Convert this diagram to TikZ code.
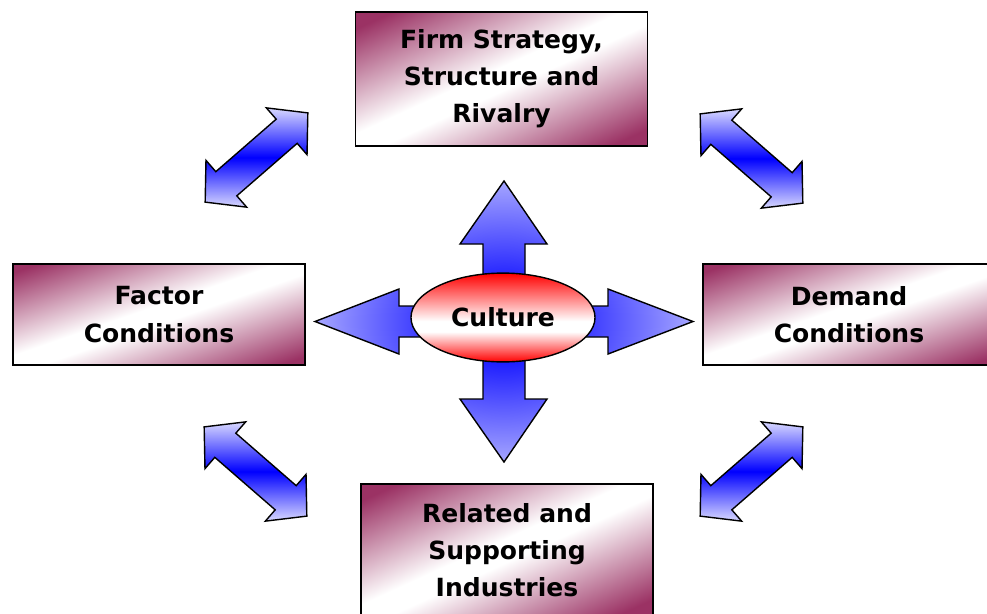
\documentclass[tikz,border=0pt]{standalone}
\usepackage{fontspec}
\setmainfont{DejaVu Sans}
\usetikzlibrary{shapes.geometric}

\definecolor{plum}{RGB}{155,50,100}
\pgfdeclareverticalshading{boxfill}{100bp}{color(0bp)=(plum); color(21bp)=(plum); color(47bp)=(white); color(53bp)=(white); color(79bp)=(plum); color(100bp)=(plum)}
\pgfdeclareverticalshading{culturefill}{100bp}{color(0bp)=(red); color(25bp)=(red); color(42bp)=(white); color(48bp)=(white); color(75bp)=(red); color(100bp)=(red)}
\pgfdeclareradialshading{rays}{\pgfpoint{0bp}{0bp}}{color(0bp)=(blue); color(6bp)=(blue!92); color(25bp)=(blue!35); color(50bp)=(blue!35)}

\tikzset{
  dblarrow/.pic={
    \path[shade,draw,line width=1pt,top color=blue!15,bottom color=blue!15,middle color=blue]
      (-68,0) -- (-40,31) -- (-40,16) -- (40,16) -- (40,31) -- (68,0)
      -- (40,-31) -- (40,-16) -- (-40,-16) -- (-40,-31) -- cycle;
  }
}

\begin{document}
\begin{tikzpicture}[x=0.025cm,y=-0.025cm,
  box/.style={rectangle,draw,line width=1pt,align=center,minimum width=7.3cm,
    font=\fontsize{17.8}{26.4}\selectfont\bfseries,shade,shading=boxfill},
  tall/.style={box,minimum height=3.35cm,shading angle=24.6},
  flat/.style={box,minimum height=2.525cm,shading angle=19.1}]
\clip (0,0) rectangle (987,613);

\pic[rotate=41] (sf) at (256.5,157.5) {dblarrow};
\pic[rotate=-41] (sd) at (751.5,158.5) {dblarrow};
\pic[rotate=-41] (fr) at (255.5,471.5) {dblarrow};
\pic[rotate=41] (dr) at (751.5,471.5) {dblarrow};

\path[shade,draw,line width=1pt,shading=rays]
  (504,181) -- (547,244) -- (525,244) -- (525,306) -- (608,306) -- (608,289)
  -- (693,321.5) -- (608,354) -- (608,337) -- (525,337) -- (525,399) -- (547,399)
  -- (504,462) -- (460,399) -- (483,399) -- (483,337) -- (399,337) -- (399,354)
  -- (315,321.5) -- (399,289) -- (399,306) -- (483,306) -- (483,244) -- (460,244) -- cycle;

\node[ellipse,draw,line width=1pt,minimum width=4.6cm,minimum height=2.22cm,inner sep=0pt,
  font=\fontsize{17.8}{25.6}\selectfont\bfseries,shade,shading=culturefill] (culture) at (503,317.5) {Culture};

\node[tall] (strat) at (501.5,79) {Firm Strategy,\\Structure and\\Rivalry};
\node[flat] (factor) at (159,314.5) {Factor\\Conditions};
\node[flat] (demand) at (849,314.5) {Demand\\Conditions};
\node[tall,minimum height=3.3cm] (related) at (507,550) {Related and\\Supporting\\Industries};
\end{tikzpicture}
\end{document}
